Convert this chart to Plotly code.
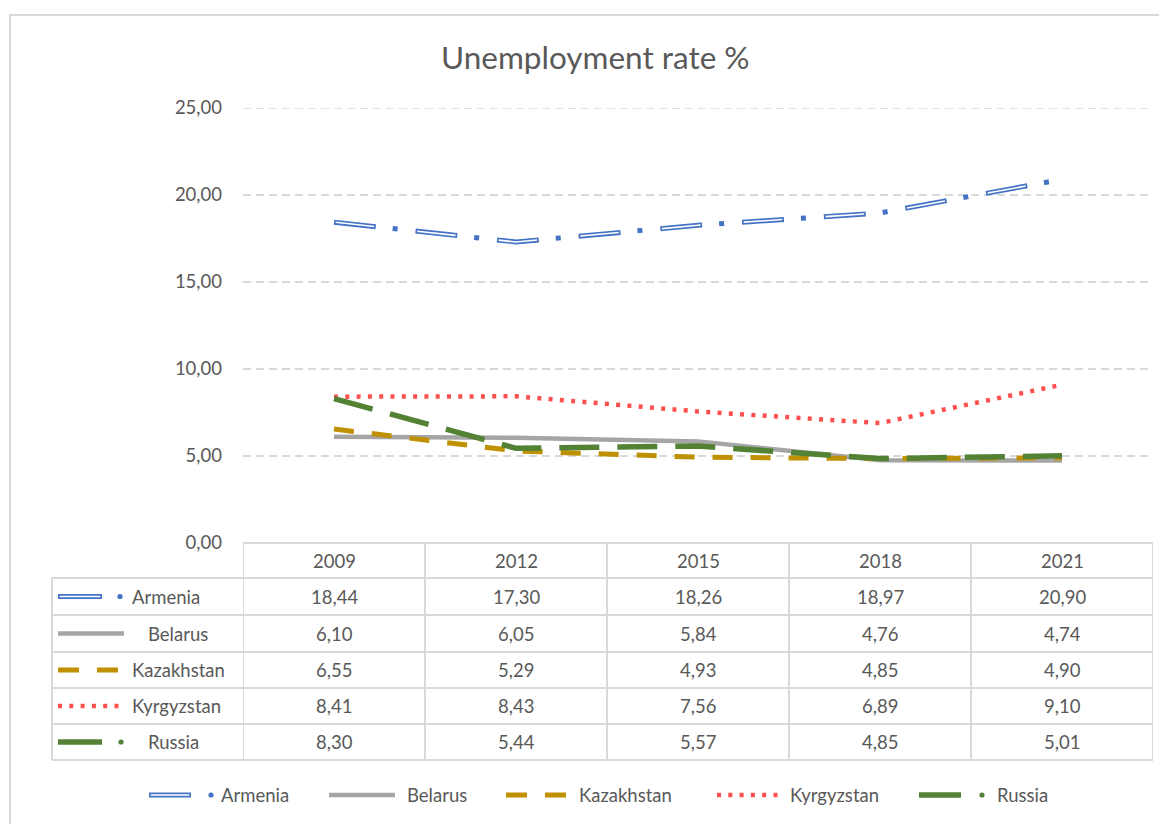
import plotly.graph_objects as go

years = ["2009", "2012", "2015", "2018", "2021"]
countries = ["Armenia", "Belarus", "Kazakhstan", "Kyrgyzstan", "Russia"]
armenia = [18.44, 17.30, 18.26, 18.97, 20.90]
belarus = [6.10, 6.05, 5.84, 4.76, 4.74]
kazakhstan = [6.55, 5.29, 4.93, 4.85, 4.90]
kyrgyzstan = [8.41, 8.43, 7.56, 6.89, 9.10]
russia = [8.30, 5.44, 5.57, 4.85, 5.01]
series = [armenia, belarus, kazakhstan, kyrgyzstan, russia]
y_max = 25

# page body has an 8px margin: the figure is placed at (8, 8) in the window
OFF = 8
W, H = 1167 - OFF, 824 - OFF
L, T = 243 - OFF, 108 - OFF
PW, PH = 910, 435
R, B = W - L - PW, H - T - PH
FONT = "Lato"
TXT = "#595959"
GRID = "#D9D9D9"
FS = 18.5

BLUE = "#4472C4"
GRAY = "#A5A5A5"
GOLD = "#BF9000"
RED = "#FF5050"
GREEN = "#548235"


def X(px):
    return (px - OFF - L) / PW


def Y(py):
    return (T + PH - (py - OFF)) / PH


def fmt(v):
    return f"{v:.2f}".replace(".", ",")


xs = list(range(len(years)))
fig = go.Figure()

# Armenia: double line, long dash-dot
fig.add_trace(go.Scatter(x=xs, y=armenia, mode="lines", showlegend=False, hoverinfo="skip",
                         line=dict(color=BLUE, width=5, dash="42px,17px,5px,18px")))
fig.add_trace(go.Scatter(x=xs, y=armenia, mode="lines", showlegend=False, hoverinfo="skip",
                         line=dict(color="white", width=1.6, dash="0px,1.7px,38.6px,41.7px")))
fig.add_trace(go.Scatter(x=xs, y=belarus, mode="lines", showlegend=False, hoverinfo="skip",
                         line=dict(color=GRAY, width=4.5)))
fig.add_trace(go.Scatter(x=xs, y=kazakhstan, mode="lines", showlegend=False, hoverinfo="skip",
                         line=dict(color=GOLD, width=5, dash="20px,18px")))
fig.add_trace(go.Scatter(x=xs, y=kyrgyzstan, mode="lines", showlegend=False, hoverinfo="skip",
                         line=dict(color=RED, width=4.5, dash="4px,7.3px")))
fig.add_trace(go.Scatter(x=xs, y=russia, mode="lines", showlegend=False, hoverinfo="skip",
                         line=dict(color=GREEN, width=5.5, dash="40px,18px")))

shapes = []
annotations = []

# outer chart border
shapes.append(dict(type="rect", xref="paper", yref="paper",
                   x0=X(10), x1=X(1180), y0=Y(840), y1=Y(15),
                   line=dict(color=GRID, width=2), layer="below"))

# top gridline (at the edge of the range, which plotly does not draw)
shapes.append(dict(type="line", xref="paper", yref="y", x0=0, x1=1, y0=y_max, y1=y_max,
                   line=dict(color=GRID, width=1.5, dash="8px,5px"), layer="below"))

# table grid
header_top, header_bot = 543, 578
row_edges = [578, 615, 652, 688, 724, 760]
left_edge = 52
tline = dict(color=GRID, width=2)
for i in range(len(years) + 1):
    shapes.append(dict(type="line", xref="x", yref="paper", x0=i - 0.5, x1=i - 0.5,
                       y0=Y(header_top), y1=Y(row_edges[-1]), line=tline))
shapes.append(dict(type="line", xref="paper", yref="paper", x0=X(left_edge), x1=X(left_edge),
                   y0=Y(header_bot), y1=Y(row_edges[-1]), line=tline))
shapes.append(dict(type="line", xref="x", yref="paper", x0=-0.5, x1=len(years) - 0.5,
                   y0=Y(header_top), y1=Y(header_top), line=tline))
for ry in row_edges:
    shapes.append(dict(type="line", xref="paper", yref="paper", x0=X(left_edge), x1=1,
                       y0=Y(ry), y1=Y(ry), line=tline))


def text_at(x, y, text, xref="paper", xanchor="center", size=FS):
    annotations.append(dict(x=x, y=y, xref=xref, yref="paper", text=text, showarrow=False,
                            xanchor=xanchor, yanchor="middle",
                            font=dict(family=FONT, size=size, color=TXT)))


# header years
for i, yr in enumerate(years):
    text_at(i, Y((header_top + header_bot) / 2), yr, xref="x")
# values
for r, vals in enumerate(series):
    cy = (row_edges[r] + row_edges[r + 1]) / 2
    for i, v in enumerate(vals):
        text_at(i, Y(cy), fmt(v), xref="x")


def dot(cx, cy, color, r=2.6):
    shapes.append(dict(type="circle", xref="paper", yref="paper",
                       x0=X(cx - r), x1=X(cx + r), y0=Y(cy + r), y1=Y(cy - r),
                       fillcolor=color, line=dict(width=0)))


def seg(x0, x1, cy, color, width, dash="solid"):
    shapes.append(dict(type="line", xref="paper", yref="paper", x0=X(x0), x1=X(x1),
                       y0=Y(cy), y1=Y(cy), line=dict(color=color, width=width, dash=dash)))


def glyph(name, x0, cy, short):
    if name == "Armenia":
        seg(x0, x0 + short, cy, BLUE, 5)
        seg(x0 + 1.7, x0 + short - 1.7, cy, "white", 1.6)
        dot(x0 + 62, cy, BLUE)
    elif name == "Belarus":
        seg(x0, x0 + 66, cy, GRAY, 4.5)
    elif name == "Kazakhstan":
        seg(x0, x0 + 61, cy, GOLD, 5, "21px,18px")
    elif name == "Kyrgyzstan":
        seg(x0, x0 + 63, cy, RED, 4.5, "4px,7.3px")
    else:
        seg(x0, x0 + short, cy, GREEN, 5.5)
        dot(x0 + 63, cy, GREEN)


# table row keys
tab_label_x = {"Armenia": 130, "Belarus": 146, "Kazakhstan": 130, "Kyrgyzstan": 130, "Russia": 146}
for r, name in enumerate(countries):
    cy = (row_edges[r] + row_edges[r + 1]) / 2
    glyph(name, 58, cy, 44)
    text_at(X(tab_label_x[name]), Y(cy), name, xanchor="left")

# bottom legend
leg_y = 795
leg_x = {"Armenia": 149, "Belarus": 329, "Kazakhstan": 506, "Kyrgyzstan": 717, "Russia": 919}
leg_label = {"Armenia": 219, "Belarus": 405, "Kazakhstan": 577, "Kyrgyzstan": 788, "Russia": 995}
for name in countries:
    glyph(name, leg_x[name], leg_y, 42)
    text_at(X(leg_label[name]), Y(leg_y), name, xanchor="left")

# title
text_at(X(595), Y(57), "Unemployment rate %", size=31.5)

fig.update_layout(
    width=W, height=H,
    margin=dict(l=L, r=R, t=T, b=B, autoexpand=False),
    paper_bgcolor="white", plot_bgcolor="white",
    separators=",.",
    showlegend=False,
    shapes=shapes, annotations=annotations,
    xaxis=dict(range=[-0.5, len(years) - 0.5], showticklabels=False, showgrid=False,
               zeroline=False, showline=False, ticks="", fixedrange=True),
    yaxis=dict(range=[0, y_max], tick0=0, dtick=5, tickformat=".2f", showgrid=True,
               gridcolor=GRID, gridwidth=1.5, griddash="8px,5px", zeroline=False,
               showline=False, ticks="", ticklabelstandoff=20,
               tickfont=dict(family=FONT, size=FS, color=TXT), fixedrange=True),
)

fig.write_html("out.html")
